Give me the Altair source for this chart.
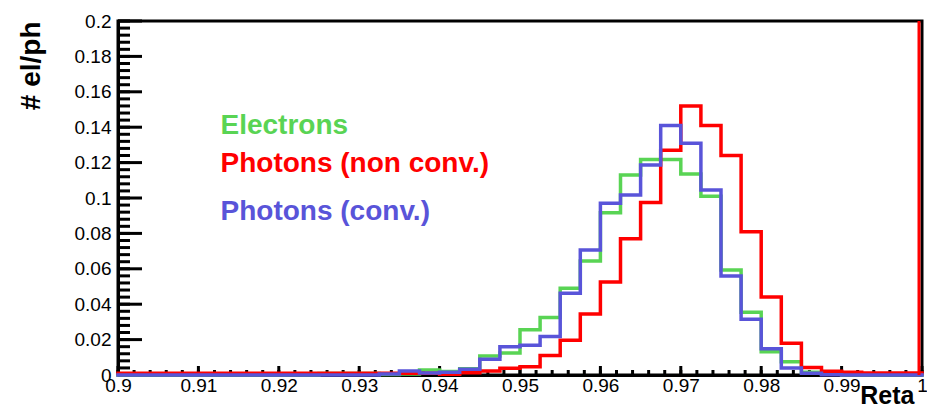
import altair as alt
import pandas as pd

# ---- data ----
# 40 bins of width 0.0025 between 0.9 and 1.0
edges = [round(0.9 + 0.0025 * k, 4) for k in range(41)]

electrons = [0, 0, 0, 0, 0, 0, 0, 0, 0, 0,
             0.0008, 0.0008, 0.0008, 0.0003, 0.0005, 0.0028, 0.002, 0.0036, 0.0107, 0.0125,
             0.0256, 0.0325, 0.049, 0.0644, 0.0917, 0.113, 0.1218, 0.1218, 0.1136, 0.101,
             0.0593, 0.0355, 0.0132, 0.0075, 0.0015, 0.0005, 0, 0, 0, 0]

photons_nonconv = [0.001, 0.001, 0.001, 0.001, 0.001, 0.001, 0.001, 0.001, 0.001, 0.001,
                   0.001, 0.001, 0.001, 0.001, 0.001, 0.001, 0.0004, 0.0013, 0.0023, 0.0038,
                   0.0047, 0.011, 0.0196, 0.0345, 0.0525, 0.077, 0.0975, 0.127, 0.152, 0.141,
                   0.124, 0.081, 0.044, 0.018, 0.0042, 0.0021, 0.0015, 0.0012, 0.0012, 0.0012]

photons_conv = [0, 0, 0, 0, 0, 0, 0, 0, 0, 0,
                0, 0, 0, 0.0005, 0.0022, 0.0012, 0.0015, 0.0032, 0.0089, 0.016,
                0.0168, 0.0218, 0.0462, 0.0706, 0.097, 0.1017, 0.1186, 0.141, 0.131, 0.1045,
                0.056, 0.0315, 0.0148, 0.004, 0.001, 0.0002, 0, 0, 0, 0]

series_names = ["Electrons", "Photons (non conv.)", "Photons (conv.)"]
series_colors = ["#59d454", "#ff0000", "#5954d9"]

x_labels = [0.9, 0.91, 0.92, 0.93, 0.94, 0.95, 0.96, 0.97, 0.98, 0.99, 1.0]
y_labels = [0, 0.02, 0.04, 0.06, 0.08, 0.1, 0.12, 0.14, 0.16, 0.18, 0.2]
x_minor = [round(0.9 + 0.002 * k, 4) for k in range(51)]
y_minor = [round(0.004 * k, 4) for k in range(51)]

legend_x = [0.91275, 0.91275, 0.91275]
legend_y = [0.1362, 0.1147, 0.0876]

FONT = "Liberation Sans"
W, H = 804, 354

xaxis = alt.Axis(values=x_labels, format="~g", ticks=False, grid=False,
                 domain=True, domainColor="black", domainWidth=3,
                 labelFont=FONT, labelFontSize=19, labelColor="black",
                 labelPadding=1, labelFlush=False, labelOverlap=False, labelBound=False,
                 title="Reta", titleFont=FONT, titleFontSize=25, titleFontWeight="bold",
                 titleColor="black", titleX=W - 8, titleY=28, titleAlign="right",
                 titleBaseline="alphabetic", titleAnchor="end")
yaxis = alt.Axis(values=y_labels, format="~g", ticks=False, grid=False,
                 domain=True, domainColor="black", domainWidth=3,
                 labelFont=FONT, labelFontSize=19, labelColor="black",
                 labelPadding=7, labelFlush=False, labelOverlap=False, labelBound=False,
                 title="# el/ph", titleFont=FONT, titleFontSize=28, titleFontWeight="bold",
                 titleColor="black", titleX=-79, titleY=0, titleAngle=270,
                 titleAlign="right", titleBaseline="alphabetic", titleAnchor="end")

xscale = alt.Scale(domain=[0.9, 1.0], nice=False, zero=False)
yscale = alt.Scale(domain=[0, 0.2], nice=False, zero=False)


def X(f):
    return alt.X(f"{f}:Q", scale=xscale, axis=xaxis)


def Y(f):
    return alt.Y(f"{f}:Q", scale=yscale, axis=yaxis)


def hist_layer(vals, color):
    df = pd.DataFrame({"x": edges, "y": vals + [vals[-1]]})
    return alt.Chart(df).mark_line(interpolate="step-after", color=color,
                                   strokeWidth=3.5, strokeCap="square").encode(x=X("x"), y=Y("y"))


layers = []

# ticks (ROOT style, pointing inward)
ymaj = pd.DataFrame({"v": y_labels})
ymin = pd.DataFrame({"v": y_minor})
xmaj = pd.DataFrame({"v": x_labels})
xmin = pd.DataFrame({"v": x_minor})
layers.append(alt.Chart(ymin).mark_rule(color="black", strokeWidth=3).encode(
    y=Y("v"), x=alt.value(0), x2=alt.value(12)))
layers.append(alt.Chart(ymaj).mark_rule(color="black", strokeWidth=3).encode(
    y=Y("v"), x=alt.value(0), x2=alt.value(24)))
layers.append(alt.Chart(xmin).mark_rule(color="black", strokeWidth=3).encode(
    x=X("v"), y=alt.value(H), y2=alt.value(H - 5)))
layers.append(alt.Chart(xmaj).mark_rule(color="black", strokeWidth=3).encode(
    x=X("v"), y=alt.value(H), y2=alt.value(H - 9)))

layers.append(hist_layer(electrons, series_colors[0]))
layers.append(hist_layer(photons_nonconv, series_colors[1]))
layers.append(hist_layer(photons_conv, series_colors[2]))

# red vertical line along right frame
layers.append(alt.Chart(pd.DataFrame({"x": [x_labels[-1]]})).mark_rule(
    color="#ff0000", strokeWidth=3, xOffset=-3).encode(
    x=X("x"), y=alt.value(0), y2=alt.value(H)))

# legend texts
leg = pd.DataFrame({"label": series_names, "x": legend_x, "y": legend_y})
layers.append(alt.Chart(leg).mark_text(align="left", baseline="alphabetic", font=FONT,
                                       fontSize=28, fontWeight="bold").encode(
    x=X("x"), y=Y("y"), text="label:N",
    color=alt.Color("label:N", scale=alt.Scale(domain=series_names, range=series_colors),
                    legend=None)))

chart = alt.layer(*layers).properties(
    width=W, height=H,
    autosize=alt.AutoSizeParams(type="none"),
    padding={"left": 110, "top": 13, "right": 5, "bottom": 34},
    background="white",
).configure_view(stroke="black", strokeWidth=3)

chart.save("out.html", embed_options={"renderer": "svg", "actions": False})
